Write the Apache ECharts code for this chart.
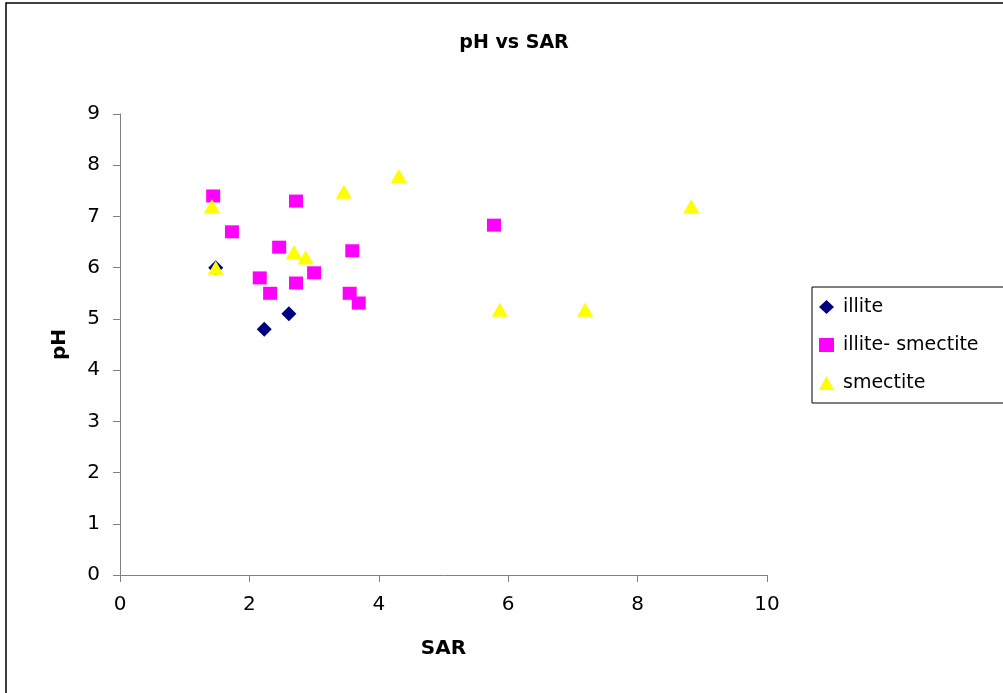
<!DOCTYPE html>
<html>
<head>
<meta charset="utf-8">
<title>pH vs SAR</title>
<script src="https://cdn.jsdelivr.net/npm/echarts@6/dist/echarts.min.js"></script>
<style>
  html, body { margin: 0; padding: 0; background: #fff; }
  #chart { width: 1003px; height: 693px; }
</style>
</head>
<body>
<div id="chart"></div>
<script>
// Sample points: [SAR, pH]
const illite = [
  [1.48, 6.0],
  [2.23, 4.8],
  [2.61, 5.1]
];
const illiteSmectite = [
  [1.44, 7.4],
  [1.73, 6.7],
  [2.72, 7.3],
  [2.46, 6.4],
  [2.16, 5.8],
  [2.32, 5.5],
  [2.72, 5.7],
  [3.0, 5.9],
  [3.59, 6.33],
  [3.55, 5.5],
  [3.69, 5.31],
  [5.78, 6.83]
];
const smectite = [
  [1.42, 7.2],
  [1.48, 6.0],
  [3.46, 7.48],
  [4.31, 7.79],
  [2.69, 6.3],
  [2.87, 6.2],
  [5.87, 5.18],
  [7.19, 5.18],
  [8.83, 7.2]
];
const seriesNames = ['illite', 'illite- smectite', 'smectite'];

const font = '"DejaVu Sans", "Liberation Sans", Arial, sans-serif';
const axisColor = '#808080';

const chart = echarts.init(document.getElementById('chart'), null, { renderer: 'canvas' });
chart.setOption({
  backgroundColor: '#ffffff',
  animation: false,
  title: {
    text: 'pH vs SAR',
    left: 509,
    top: 29,
    textAlign: 'center',
    textStyle: { fontFamily: font, fontSize: 19, fontWeight: 'bold', color: '#000' }
  },
  graphic: [{
    type: 'rect',
    shape: { x: 6, y: 3, width: 1100, height: 800 },
    style: { fill: 'none', stroke: '#000', lineWidth: 1.5 },
    silent: true
  }],
  legend: {
    orient: 'vertical',
    left: 812,
    top: 287,
    padding: [9, 40, 9, 7],
    backgroundColor: '#fff',
    borderColor: '#000',
    borderWidth: 1,
    itemWidth: 15,
    itemHeight: 14,
    itemGap: 16,
    data: [
      { name: seriesNames[0], icon: 'diamond' },
      { name: seriesNames[1], icon: 'rect' },
      { name: seriesNames[2], icon: 'triangle' }
    ],
    textStyle: { fontFamily: font, fontSize: 19, color: '#000', lineHeight: 22, padding: [0, 0, 0, 4] }
  },
  grid: { left: 120, top: 114, width: 647, height: 461 },
  xAxis: {
    type: 'value',
    min: 0, max: 10, interval: 2,
    name: 'SAR',
    nameLocation: 'middle',
    nameGap: 64,
    nameTextStyle: { fontFamily: font, fontSize: 20, fontWeight: 'bold', color: '#000' },
    splitLine: { show: false },
    axisLine: { show: true, onZero: false, lineStyle: { color: axisColor, width: 1 } },
    axisTick: { show: true, inside: false, length: 7, lineStyle: { color: axisColor } },
    axisLabel: { fontFamily: font, fontSize: 20, color: '#000', margin: 20 }
  },
  yAxis: {
    type: 'value',
    min: 0, max: 9, interval: 1,
    name: 'pH',
    nameLocation: 'middle',
    nameGap: 50,
    nameTextStyle: { fontFamily: font, fontSize: 20, fontWeight: 'bold', color: '#000' },
    splitLine: { show: false },
    axisLine: { show: true, onZero: false, lineStyle: { color: axisColor, width: 1 } },
    axisTick: { show: true, inside: false, length: 7, lineStyle: { color: axisColor } },
    axisLabel: { fontFamily: font, fontSize: 20, color: '#000', margin: 20 }
  },
  series: [
    {
      name: seriesNames[0],
      type: 'scatter',
      symbol: 'diamond',
      symbolSize: [15, 15],
      itemStyle: { color: '#000080', opacity: 1 },
      data: illite,
      z: 2
    },
    {
      name: seriesNames[1],
      type: 'scatter',
      symbol: 'rect',
      symbolSize: [14, 13],
      itemStyle: { color: '#ff00ff', opacity: 1 },
      data: illiteSmectite,
      z: 3
    },
    {
      name: seriesNames[2],
      type: 'scatter',
      symbol: 'triangle',
      symbolSize: [16, 14],
      itemStyle: { color: '#ffff00', opacity: 1 },
      data: smectite,
      z: 4
    }
  ]
});
</script>
</body>
</html>
